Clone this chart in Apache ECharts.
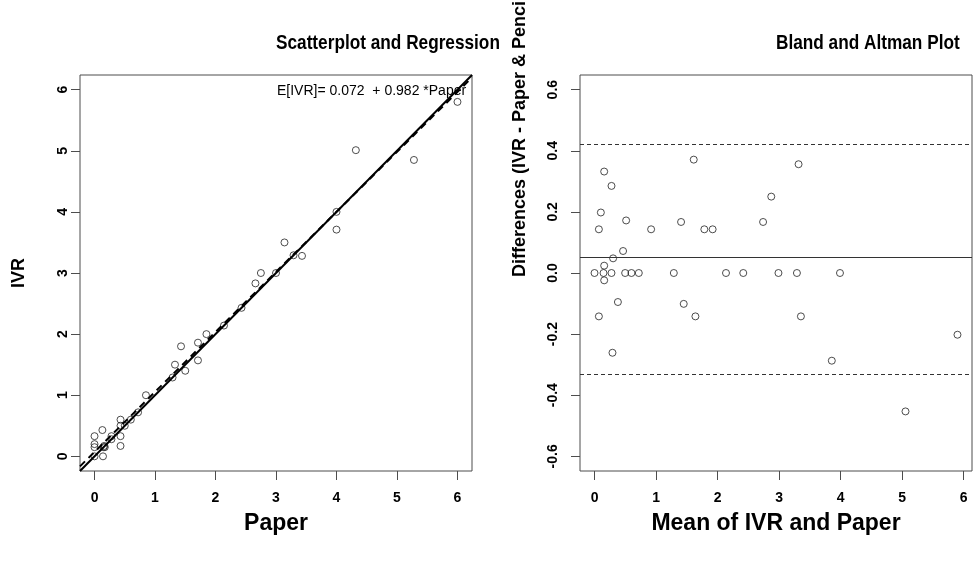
<!DOCTYPE html>
<html>
<head>
<meta charset="utf-8">
<script src="https://cdn.jsdelivr.net/npm/echarts@6/dist/echarts.min.js"></script>
<style>
  html, body { margin: 0; padding: 0; background: #fff; }
  #chart { width: 973px; height: 564px; }
</style>
</head>
<body>
<div id="chart"></div>
<script>
// Datos: Paper vs IVR (panel izquierdo)
const paper = [0, 0, 0, 0, 0.14, 0.13, 0.16, 0.15, 0.17, 0.28, 0.28, 0.43, 0.43, 0.43, 0.43, 0.5, 0.6, 0.72, 0.85,
  1.29, 1.33, 1.5, 1.43, 1.71, 1.71, 1.85, 2.14, 2.43, 2.66, 2.75, 3.0, 3.29, 3.14, 3.43, 4.0, 4.0, 4.32, 5.28, 6.0];
const ivr = [0, 0.33, 0.2, 0.15, 0, 0.43, 0.17, 0.15, 0.15, 0.33, 0.28, 0.17, 0.33, 0.5, 0.6, 0.5, 0.6, 0.72, 1.0,
  1.29, 1.5, 1.4, 1.8, 1.57, 1.86, 2.0, 2.14, 2.43, 2.83, 3.0, 3.0, 3.29, 3.5, 3.28, 4.0, 3.71, 5.01, 4.85, 5.8];

// Bland-Altman (panel derecho): media y diferencia
const baMean = [0.157, 0.276, 1.613, 0.103, 0.071, 0.514, 0.92, 1.407, 1.785, 1.92, 2.74, 2.873, 0.464, 0.302, 0.157,
  0, 0.146, 0.276, 0.498, 0.6, 0.72, 1.289, 2.137, 2.418, 2.99, 3.29, 3.99, 0.157, 0.38, 1.45, 0.071, 1.64, 0.292,
  3.317, 3.355, 3.857, 5.055, 5.9];
const baDiff = [0.332, 0.285, 0.371, 0.198, 0.143, 0.172, 0.143, 0.167, 0.143, 0.143, 0.167, 0.25, 0.072, 0.048, 0.024,
  0, 0, 0, 0, 0, 0, 0, 0, 0, 0, 0, 0, -0.024, -0.095, -0.101, -0.142, -0.142, -0.261,
  0.356, -0.142, -0.287, -0.453, -0.202];

// Regresion y limites de acuerdo
const intercept = 0.072;
const slope = 0.982;
const baMeanLine = 0.049;
const baUpper = 0.416;
const baLower = -0.327;

// Marcas de los ejes
const leftTicks = [0, 1, 2, 3, 4, 5, 6];
const baXTicks = [0, 1, 2, 3, 4, 5, 6];
const baYTicks = [-0.6, -0.4, -0.2, 0, 0.2, 0.4, 0.6];

const xMinL = -0.24, xMaxL = 6.24;
const yMinL = -0.24, yMaxL = 6.24;

const FONT = "'Liberation Sans', Arial, sans-serif";

let grafico = echarts.init(document.getElementById('chart'), null, { renderer: 'canvas' });

function ejeBase(ticks, extra) {
  return Object.assign({
    type: 'value',
    axisLine: { show: false, onZero: false },
    splitLine: { show: false },
    axisTick: { show: true, inside: false, length: 9, customValues: ticks, lineStyle: { color: '#4d4d4d', width: 1 } },
    axisLabel: { customValues: ticks, color: '#000', fontWeight: 'bold', fontSize: 14, fontFamily: FONT }
  }, extra);
}

let opciones = {
  animation: false,
  backgroundColor: '#fff',
  grid: [
    { left: 80, top: 75, width: 392, height: 396, show: true, borderColor: '#4d4d4d', borderWidth: 1, backgroundColor: 'transparent' },
    { left: 580, top: 75, width: 392, height: 396, show: true, borderColor: '#4d4d4d', borderWidth: 1, backgroundColor: 'transparent' }
  ],
  xAxis: [
    ejeBase(leftTicks, {
      gridIndex: 0, min: xMinL, max: xMaxL,
      name: 'Paper', nameLocation: 'middle', nameGap: 41,
      nameTextStyle: { color: '#000', fontWeight: 'bold', fontSize: 23, fontFamily: FONT }
    }),
    ejeBase(baXTicks, {
      gridIndex: 1, min: -0.236, max: 6.136,
      name: 'Mean of IVR and Paper', nameLocation: 'middle', nameGap: 41,
      nameTextStyle: { color: '#000', fontWeight: 'bold', fontSize: 23, fontFamily: FONT }
    })
  ],
  yAxis: [
    ejeBase(leftTicks, {
      gridIndex: 0, min: yMinL, max: yMaxL,
      name: 'IVR', nameLocation: 'middle', nameGap: 52,
      nameTextStyle: { color: '#000', fontWeight: 'bold', fontSize: 18, fontFamily: FONT }
    }),
    ejeBase(baYTicks, {
      gridIndex: 1, min: -0.648, max: 0.648
    })
  ],
  graphic: [
    { type: 'text', x: 276, y: 43, scaleX: 0.82, style: { text: 'Scatterplot and Regression', font: 'bold 21px ' + FONT, fill: '#000', verticalAlign: 'middle', align: 'left' } },
    { type: 'text', x: 776, y: 43, scaleX: 0.82, style: { text: 'Bland and Altman Plot', font: 'bold 21px ' + FONT, fill: '#000', verticalAlign: 'middle', align: 'left' } },
    { type: 'text', x: 277, y: 91, style: { text: 'E[IVR]= 0.072  + 0.982 *Paper', font: '14px ' + FONT, fill: '#000', verticalAlign: 'middle', align: 'left' } },
    { type: 'text', x: 520, y: 277, rotation: Math.PI / 2, style: { text: 'Differences (IVR - Paper & Pencil)', font: 'bold 18px ' + FONT, fill: '#000', verticalAlign: 'middle', align: 'left' } }
  ],
  series: [
    // Linea identidad (solida)
    {
      type: 'line', xAxisIndex: 0, yAxisIndex: 0, symbol: 'none', silent: true,
      data: [[xMinL, xMinL], [xMaxL, xMaxL]],
      lineStyle: { color: '#000', width: 2 }
    },
    // Regresion (discontinua)
    {
      type: 'line', xAxisIndex: 0, yAxisIndex: 0, symbol: 'none', silent: true,
      data: [[xMinL, intercept + slope * xMinL], [xMaxL, intercept + slope * xMaxL]],
      lineStyle: { color: '#000', width: 2, type: [7, 5] }
    },
    {
      type: 'scatter', xAxisIndex: 0, yAxisIndex: 0, symbol: 'circle', symbolSize: 7,
      data: paper.map((v, i) => [v, ivr[i]]),
      itemStyle: { color: 'rgba(0,0,0,0)', borderColor: '#222', borderWidth: 1 }
    },
    {
      type: 'scatter', xAxisIndex: 1, yAxisIndex: 1, symbol: 'circle', symbolSize: 7,
      data: baMean.map((v, i) => [v, baDiff[i]]),
      itemStyle: { color: 'rgba(0,0,0,0)', borderColor: '#222', borderWidth: 1 },
      markLine: {
        silent: true, symbol: 'none', label: { show: false },
        data: [
          { yAxis: baMeanLine, lineStyle: { color: '#333', width: 1, type: 'solid' } },
          { yAxis: baUpper, lineStyle: { color: '#333', width: 1, type: [4, 3] } },
          { yAxis: baLower, lineStyle: { color: '#333', width: 1, type: [4, 3] } }
        ]
      }
    }
  ]
};

// Etiquetas del eje Y rotadas como en R
opciones.yAxis[0].axisLabel.rotate = 90;
opciones.yAxis[0].axisLabel.margin = 10;
opciones.yAxis[1].axisLabel.rotate = 90;
opciones.yAxis[1].axisLabel.margin = 20;
opciones.yAxis[1].axisLabel.formatter = v => v.toFixed(1);
opciones.xAxis[0].axisLabel.margin = 20;
opciones.xAxis[1].axisLabel.margin = 20;

grafico.setOption(opciones);
</script>
</body>
</html>
